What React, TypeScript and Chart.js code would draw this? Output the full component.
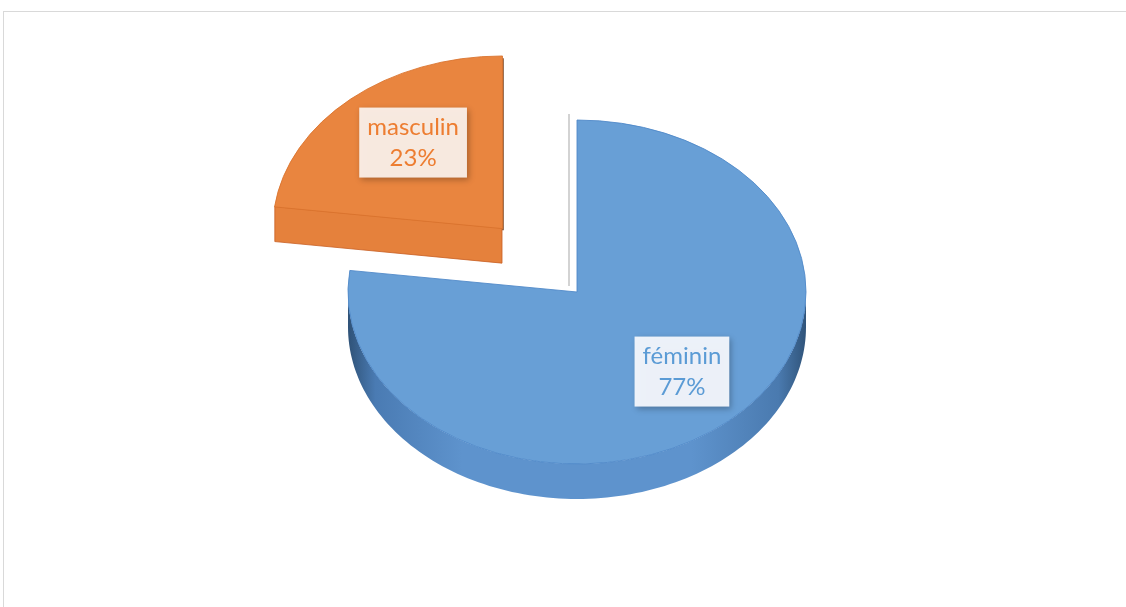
import React, { useEffect, useRef } from 'react';
import { Chart, registerables } from 'chart.js';

Chart.register(...registerables);

const categories = ['féminin', 'masculin'];
const values = [77, 23];
const percentLabels = ['77%', '23%'];
const sliceColors = ['#689fd6', '#e9853f'];
const sliceBorders = ['#4f88c8', '#d9722d'];
const textColors = ['#5b9bd5', '#ed7d31'];
const boxFills = ['rgba(242,246,252,0.96)', 'rgba(250,238,231,0.96)'];
const explode = [0, 450];

const TILT = 0.751;
const DEPTH = 35;
const LABEL_FRAC = 0.64;
const LABEL_SHIFT_X = 8;
const LABEL_SHIFT_Y = -3;

function sliceGeom(arc: any) {
  const p = arc.getProps(['startAngle', 'endAngle', 'outerRadius', 'x', 'y'], true);
  const off = (arc.options.offset || 0) / 4;
  const half = (p.startAngle + p.endAngle) / 2;
  const circ = p.endAngle - p.startAngle;
  const fix = 1 - Math.sin(Math.min(Math.PI, circ || 0));
  const d = off + off * fix;
  return {
    start: p.startAngle,
    end: p.endAngle,
    r: p.outerRadius,
    half,
    ox: p.x + Math.cos(half) * d,
    oy: p.y + Math.sin(half) * d,
    cy: p.y,
  };
}

const pie3d = {
  id: 'pie3d',
  beforeDatasetsDraw(chart: any) {
    const ctx = chart.ctx;
    const arcs = chart.getDatasetMeta(0).data;
    chart.$pie3dSaved = false;
    if (!arcs.length) return;
    ctx.save();
    chart.$pie3dSaved = true;
    const cy = arcs[0].y;
    arcs.forEach((arc: any, i: number) => {
      const g = sliceGeom(arc);
      const sx = (a: number, r: number) => g.ox + Math.cos(a) * r;
      const sy = (a: number, r: number) => cy + (g.oy - cy + Math.sin(a) * r) * TILT;
      const cx0 = g.ox, cy0 = cy + (g.oy - cy) * TILT;
      // outer side wall (front half)
      for (let k = -1; k <= 1; k++) {
        const a0 = Math.max(g.start, 2 * Math.PI * k);
        const a1 = Math.min(g.end, 2 * Math.PI * k + Math.PI);
        if (a1 <= a0) continue;
        const steps = 120;
        ctx.beginPath();
        for (let s = 0; s <= steps; s++) {
          const a = a0 + ((a1 - a0) * s) / steps;
          const x = sx(a, g.r), y = sy(a, g.r);
          if (s === 0) ctx.moveTo(x, y); else ctx.lineTo(x, y);
        }
        for (let s = steps; s >= 0; s--) {
          const a = a0 + ((a1 - a0) * s) / steps;
          ctx.lineTo(sx(a, g.r), sy(a, g.r) + DEPTH);
        }
        ctx.closePath();
        const grad = ctx.createLinearGradient(g.ox - g.r, 0, g.ox + g.r, 0);
        if (i === 0) {
          grad.addColorStop(0, '#2f5277');
          grad.addColorStop(0.06, '#4a7bb3');
          grad.addColorStop(0.25, '#5e93cd');
          grad.addColorStop(0.75, '#5e93cd');
          grad.addColorStop(0.94, '#4a7aaf');
          grad.addColorStop(1, '#30547a');
        } else {
          grad.addColorStop(0, '#c4621f');
          grad.addColorStop(0.5, '#e07a34');
          grad.addColorStop(1, '#b85a1c');
        }
        ctx.fillStyle = grad;
        ctx.fill();
      }
      // cut faces
      const edges = [
        { e: g.start, n: g.start - Math.PI / 2 },
        { e: g.end, n: g.end + Math.PI / 2 },
      ];
      edges.forEach(({ e, n }) => {
        if (g.end - g.start >= 2 * Math.PI - 1e-6) return;
        const px = sx(e, g.r), py = sy(e, g.r);
        const sn = Math.sin(n);
        if (Math.abs(sn) < 0.1) {
          ctx.beginPath();
          if (Math.cos(n) < 0) {
            ctx.moveTo(cx0 - 8, cy0 - 6);
            ctx.lineTo(px - 8, py - 6);
            ctx.strokeStyle = i === 0 ? 'rgba(190,190,190,0.9)' : 'rgba(120,60,20,0.9)';
          } else {
            ctx.moveTo(cx0 + 1, cy0 + 2);
            ctx.lineTo(px + 1, py + 2);
            ctx.strokeStyle = i === 0 ? 'rgba(60,90,130,0.9)' : 'rgba(110,50,10,0.9)';
          }
          ctx.lineWidth = 1.5;
          ctx.stroke();
          return;
        }
        if (sn < 0) return;
        ctx.beginPath();
        ctx.moveTo(cx0, cy0);
        ctx.lineTo(px, py);
        ctx.lineTo(px, py + DEPTH);
        ctx.lineTo(cx0, cy0 + DEPTH);
        ctx.closePath();
        ctx.fillStyle = i === 0 ? '#5a8cc6' : '#e5813c';
        ctx.fill();
        ctx.strokeStyle = i === 0 ? 'rgba(60,100,150,0.6)' : 'rgba(200,95,35,0.8)';
        ctx.lineWidth = 1;
        ctx.stroke();
      });
    });
    ctx.translate(0, cy);
    ctx.scale(1, TILT);
    ctx.translate(0, -cy);
  },
  afterDatasetsDraw(chart: any) {
    const ctx = chart.ctx;
    if (chart.$pie3dSaved) {
      ctx.restore();
      chart.$pie3dSaved = false;
    }
    const arcs = chart.getDatasetMeta(0).data;
    arcs.forEach((arc: any, i: number) => {
      const g = sliceGeom(arc);
      const lr = g.r * LABEL_FRAC;
      const lx = g.ox + Math.cos(g.half) * lr + LABEL_SHIFT_X;
      const ly = g.cy + (g.oy - g.cy + Math.sin(g.half) * lr) * TILT + LABEL_SHIFT_Y;
      const lines = [categories[i], percentLabels[i]];
      ctx.save();
      ctx.font = '24px Lato, "Open Sans", sans-serif';
      const w = Math.max(...lines.map((t) => ctx.measureText(t).width)) + 16;
      const h = 70;
      ctx.shadowColor = 'rgba(0,0,0,0.28)';
      ctx.shadowBlur = 6;
      ctx.shadowOffsetX = 2;
      ctx.shadowOffsetY = 2;
      ctx.fillStyle = boxFills[i];
      ctx.fillRect(lx - w / 2, ly - h / 2, w, h);
      ctx.shadowColor = 'transparent';
      ctx.fillStyle = textColors[i];
      ctx.textAlign = 'center';
      ctx.textBaseline = 'middle';
      ctx.fillText(lines[0], lx, ly - 15);
      ctx.fillText(lines[1], lx, ly + 16);
      ctx.restore();
    });
  },
};

export default function App() {
  const canvasRef = useRef<HTMLCanvasElement | null>(null);

  useEffect(() => {
    if (!canvasRef.current) return;
    const chart = new Chart(canvasRef.current, {
      type: 'pie',
      data: {
        labels: categories,
        datasets: [
          {
            data: values,
            backgroundColor: sliceColors,
            borderColor: sliceBorders,
            borderWidth: 1,
            offset: explode,
          },
        ],
      },
      options: {
        animation: false,
        responsive: true,
        maintainAspectRatio: false,
        radius: 229,
        rotation: 0,
        layout: { padding: { left: 28, right: 0, top: 0, bottom: 23 } },
        plugins: {
          legend: { display: false },
          tooltip: { enabled: false },
        },
      } as any,
      plugins: [pie3d],
    });
    return () => chart.destroy();
  }, []);

  return (
    <div
      style={{
        position: 'fixed',
        left: 0,
        top: 0,
        width: 1126,
        height: 607,
        overflow: 'hidden',
        background: '#ffffff',
      }}
    >
      <div
        style={{
          position: 'absolute',
          left: 3,
          top: 11,
          width: 1200,
          height: 700,
          border: '1px solid #d9d9d9',
        }}
      />
      <div style={{ position: 'absolute', left: 0, top: 0, width: 1126, height: 607 }}>
        <canvas ref={canvasRef} />
      </div>
    </div>
  );
}
